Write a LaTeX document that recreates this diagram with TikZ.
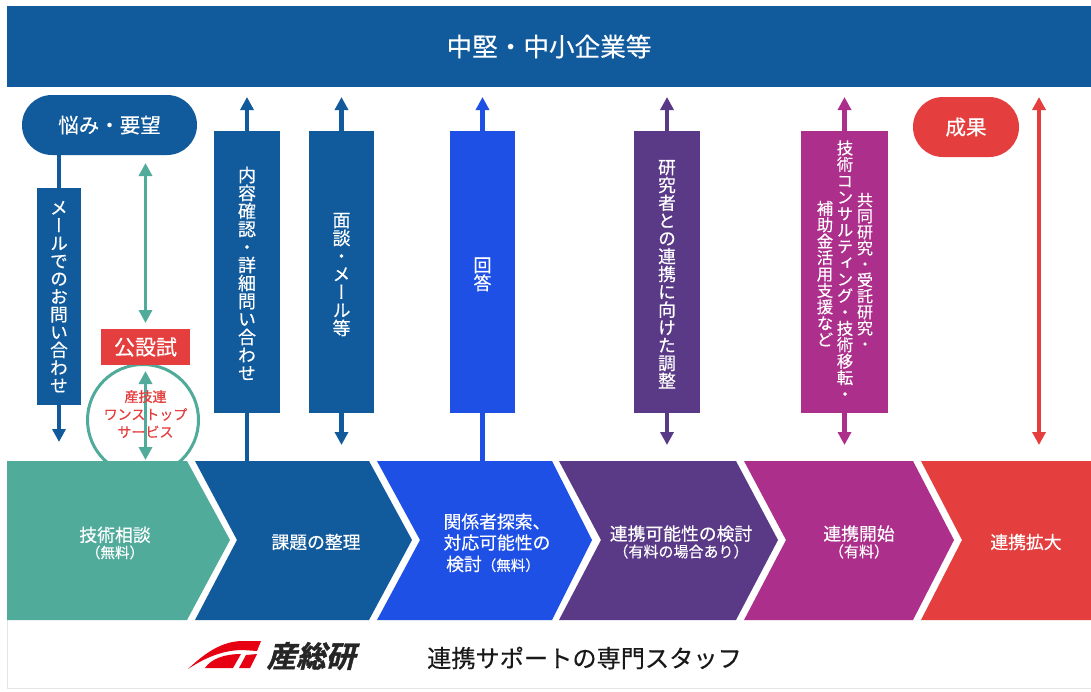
\documentclass[tikz,border=0pt]{standalone}
\usepackage{fontspec}
\usetikzlibrary{arrows.meta}
\setmainfont[FakeBold=0.35]{Noto Sans CJK JP}
\newfontfamily\tatefont[RawFeature=+vert,FakeBold=0.35]{Noto Sans CJK JP}
\newfontfamily\boldredfont[FakeBold=0.8]{Noto Sans CJK JP}
\newfontfamily\logofont[FakeSlant=0.25,FakeBold=1.5]{Noto Sans CJK JP Bold}
\definecolor{cnavy}{HTML}{115A9C}
\definecolor{cteal}{HTML}{50AB9B}
\definecolor{cblue}{HTML}{1F50E6}
\definecolor{cpurple}{HTML}{5A3A87}
\definecolor{cmagenta}{HTML}{AD2F8C}
\definecolor{cred}{HTML}{E53E3E}
\definecolor{clogo}{HTML}{E60012}
\makeatletter
\newcommand\tate[3][4pt]{\vbox{\offinterlineskip\kern#1\@tfor\tatec:=#3\do{\hbox to #2{\hss\smash{\tatec}\hss\vrule width 0pt height .88\dimexpr#2\relax depth .12\dimexpr#2\relax}}}}
\makeatother
\newcommand\fs[1]{\fontsize{#1}{#1}\selectfont}
\tikzset{
 x=1pt,y=-1pt,
 link/.style={line width=4.4pt,draw=#1},
 arrowup/.style={line width=4.4pt,draw=#1,-{Triangle[width=13pt,length=13pt]}},
 thinboth/.style={line width=3.4pt,draw=#1,{Triangle[width=13pt,length=13pt]}-{Triangle[width=13pt,length=13pt]}},
 vbar/.style={fill=#1,inner sep=0pt,text=white,minimum height=282pt,anchor=center},
 lbl/.style={text=white,inner sep=0pt,align=center},
 pill/.style={fill=#1,rounded corners=29.9pt,inner sep=0pt,text=white},
}
\begin{document}
\begin{tikzpicture}
\useasboundingbox (0,0) rectangle (1091,691);
\fill[white] (0,0) rectangle (1091,691);
% frame
\draw[black!10,line width=.8pt] (7,620) -- (7,688) -- (1091,688);
% header
\node[fill=cnavy,inner sep=0pt,minimum width=1084pt,minimum height=81pt,text=white] (head) at (549,46.5) {\raisebox{-1.5pt}{\fs{25.6}中堅・中小企業等}};
% circle
\node[draw=cteal,line width=3pt,fill=white,circle,minimum size=111pt,inner sep=0pt] (circ) at (143,420) {};
% chevrons
\fill[cteal] (7,461) -- (187,461) -- (230,540) -- (187,620) -- (7,620) -- cycle;
\fill[cnavy] (195,461) -- (369,461) -- (412,540) -- (369,620) -- (195,620) -- (237,540) -- cycle;
\fill[cblue] (377,461) -- (552,461) -- (592,540) -- (552,620) -- (377,620) -- (420,540) -- cycle;
\fill[cpurple] (559,461) -- (736,461) -- (778,540) -- (736,620) -- (559,620) -- (601,540) -- cycle;
\fill[cmagenta] (744,461) -- (913,461) -- (954,540) -- (913,620) -- (744,620) -- (786,540) -- cycle;
\fill[cred] (921,461) -- (1091,461) -- (1091,620) -- (921,620) -- (962,540) -- cycle;
% chevron labels
\node[lbl] (c1) at (115,543) {\fs{17.8}技術相談\\[1.5pt]\fs{14.5}（無料）};
\node[lbl] (c2) at (316,542) {\fs{17.8}課題の整理};
\node[lbl,align=left] (c3) at (497,532) {\fs{17.8}関係者探索、\\[3.5pt]\fs{17.8}対応可能性の};
\node[lbl] (c3b) at (493,564) {\fs{17.8}検討\fs{14.5}（無料）};
\node[lbl] (c4) at (681,542) {\fs{17.8}連携可能性の検討\\[1.5pt]\fs{15}（有料の場合あり）};
\node[lbl] (c5) at (859,542) {\fs{17.8}連携開始\\[1.5pt]\fs{15}（有料）};
\node[lbl] (c6) at (1026,542) {\fs{17.8}連携拡大};
% free ends
\coordinate (e1) at (59,442);
\coordinate (u2) at (247,97);
\coordinate (b2) at (247,461);
\coordinate (u3) at (341.5,97);
\coordinate (d3) at (341.5,445);
\coordinate (u4) at (482.5,97);
\coordinate (b4) at (482.5,461);
\coordinate (u5) at (667,97);
\coordinate (d5) at (667,445);
\coordinate (u6) at (844.5,97);
\coordinate (d6) at (844.5,445);
\coordinate (u7) at (1039,97);
\coordinate (d7) at (1039,445);
\coordinate (t1) at (145.5,163);
\coordinate (t2) at (145.5,323);
\coordinate (t3) at (145.5,371);
\coordinate (t4) at (145.5,460);
% boxes
\node[pill=cnavy,minimum width=175pt,minimum height=60pt] (want) at (109.5,125) {\fs{20.5}悩み・要望};
\node[pill=cred,minimum width=106pt,minimum height=60pt] (result) at (966,127) {\fs{20.5}成果};
\node[vbar=cnavy,minimum width=44pt,minimum height=217pt] (mail) at (59,296.5) {\fs{17.8}\tatefont\tate[0pt]{17.8pt}{メールでのお問い合わせ}};
\node[vbar=cnavy,minimum width=66pt] (b2box) at (247,272) {\fs{18}\tatefont\tate{18pt}{内容確認・詳細問い合わせ}};
\node[vbar=cnavy,minimum width=65pt] (b3box) at (341.5,272) {\fs{18}\tatefont\tate{18pt}{面談・メール等}};
\node[vbar=cblue,minimum width=65pt] (b4box) at (482.5,272) {\fs{18}\tatefont\tate{18pt}{回答}};
\node[vbar=cpurple,minimum width=66pt] (b5box) at (667,272) {\fs{17.8}\tatefont\tate{17.8pt}{研究者との連携に向けた調整}};
\node[vbar=cmagenta,minimum width=87pt] (b6box) at (844.5,272) {};
\node[lbl] (b6m) at (845,271) {\fs{16.4}\tatefont\tate[0pt]{16.4pt}{技術コンサルティング・技術移転・}};
\node[lbl] (b6r) at (865,272) {\fs{16}\tatefont\tate[0pt]{16pt}{共同研究・受託研究・}};
\node[lbl] (b6l) at (825,274) {\fs{16.4}\tatefont\tate[0pt]{16.4pt}{補助金活用支援など}};
% connectors
\draw[link=cnavy] (want.south -| mail.north) -- (mail.north);
\draw[arrowup=cnavy] (mail.south) -- (e1);
\draw[arrowup=cnavy] (b2box.north) -- (u2);
\draw[link=cnavy] (b2box.south) -- (b2);
\draw[arrowup=cnavy] (b3box.north) -- (u3);
\draw[arrowup=cnavy] (b3box.south) -- (d3);
\draw[arrowup=cblue] (b4box.north) -- (u4);
\draw[link=cblue] (b4box.south) -- (b4);
\draw[arrowup=cpurple] (b5box.north) -- (u5);
\draw[arrowup=cpurple] (b5box.south) -- (d5);
\draw[arrowup=cmagenta] (b6box.north) -- (u6);
\draw[arrowup=cmagenta] (b6box.south) -- (d6);
\draw[thinboth=cred] (u7) -- (d7);
\draw[thinboth=cteal] (t1) -- (t2);
\draw[thinboth=cteal] (t3) -- (t4);
% public lab label and circle text
\node[fill=cred,inner sep=0pt,minimum width=89pt,minimum height=36pt,text=white] (lab) at (145.5,347) {\fs{21}公設試};
\node[inner sep=0pt,text=cred,align=center] (oss) at (145.5,414) {\boldredfont\fs{14}産技連\\[4pt]\fs{14}ワンストップ\\[4pt]\fs{14}サービス};
% footer
\fill[clogo] (188,669) .. controls (205,653) and (222,641) .. (243,641) -- (261,641) -- (257,651) -- (243,650) .. controls (224,650) and (206,657) .. (188,669) -- cycle;
\fill[clogo] (205,668) .. controls (211,659) and (224,654) .. (241,654) -- (233,668) -- cycle;
\fill[clogo] (257,654) -- (250,668) -- (239,668) -- (246,655) -- cycle;
\node[inner sep=0pt,text=black!85] (logotext) at (311,656) {\fs{29.5}\logofont 産総研};
\node[inner sep=0pt,text=black!90] (staff) at (584.5,658) {\fs{24.2}連携サポートの専門スタッフ};
\end{tikzpicture}
\end{document}
